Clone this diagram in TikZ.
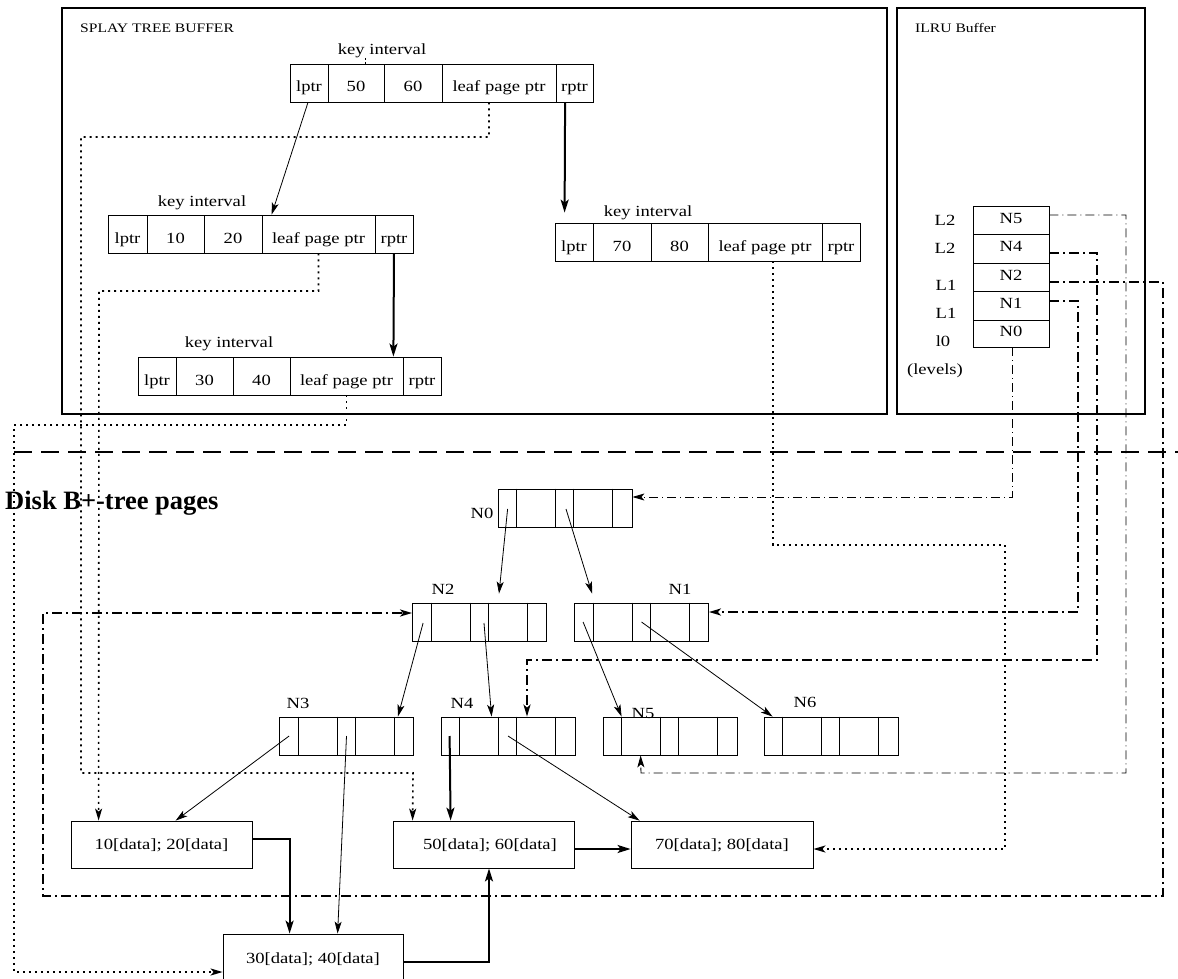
\documentclass[tikz,border=0pt]{standalone}
\usepackage{fontspec}
\setmainfont{Liberation Serif}
\newfontfamily\figfont[FakeStretch=1.2]{Liberation Serif}
\usetikzlibrary{arrows.meta,calc}
\newcommand\fsn{\figfont\fontsize{15.5}{17}\selectfont}
\newcommand\fss{\figfont\fontsize{13}{15}\selectfont}
\newcommand\fsb{\fontsize{26.5}{30}\selectfont\bfseries}
\newcommand\pagelines[1]{\foreach \o in {19,58,76,115}{\draw[line width=0.8pt] ([xshift=\o pt]#1.north west) -- ([xshift=\o pt]#1.south west);}}
\tikzset{
  cell/.style={draw, line width=0.8pt, minimum height=38pt, inner sep=0pt, font=\fsn, text height=18pt, text depth=0pt},
  ilcell/.style={draw, line width=0.8pt, minimum width=76pt, inner sep=0pt, font=\fsn, text height=9pt, text depth=3pt},
  pagebox/.style={draw, line width=0.8pt, minimum width=134pt, minimum height=38pt, inner sep=0pt},
  databox/.style={draw, line width=0.8pt, minimum width=181pt, minimum height=47pt, inner sep=0pt, font=\fsn, text height=12pt, text depth=3pt},
  lbl/.style={inner sep=0pt, font=\fsn, anchor=base},
  outer/.style={line width=1.6pt},
  tip/.style={-{Stealth[length=12pt,width=7pt,inset=3pt]}},
  thinarr/.style={line width=0.8pt, tip},
  thickarr/.style={line width=2pt, -{Stealth[length=13pt,width=8pt,inset=3pt]}},
  dotarr/.style={line width=1.6pt, dash pattern=on 2pt off 4pt, tip},
  ddthick/.style={line width=2pt, dash pattern=on 10pt off 4pt on 2pt off 4pt, tip},
  ddthin/.style={line width=0.9pt, dash pattern=on 9pt off 4pt on 1pt off 4pt, tip},
  sepline/.style={line width=1.5pt, dash pattern=on 18pt off 9pt},
}
\begin{document}
\begin{tikzpicture}[x=1pt,y=-1pt]
\useasboundingbox (0,0) rectangle (1178,979);
% outer boxes
\draw[outer] (62,8) rectangle (887,414);
\draw[outer] (897,8) rectangle (1145,414);
\node[inner sep=0pt, font=\fss, anchor=base west] (splaytitle) at (80,33) {SPLAY TREE BUFFER};
\node[inner sep=0pt, font=\fss, anchor=base west] (ilrutitle) at (915,33) {ILRU Buffer};

% record 1
\node[lbl] (ki1) at (382,55) {key interval};
\node[cell, minimum width=38pt] (r1a) at (309,83) {lptr};
\node[cell, minimum width=56pt] (r1b) at (356,83) {50};
\node[cell, minimum width=58pt] (r1c) at (413,83) {60\hspace{24pt}};
\node[cell, minimum width=114pt] (r1d) at (499,83) {leaf page ptr};
\node[cell, minimum width=37pt] (r1e) at (574.5,83) {rptr};
\draw[line width=1pt, dash pattern=on 2pt off 2pt] (365,58) -- (r1b.north -| 365,0);

% record 2
\node[lbl] (ki2) at (202,206) {key interval};
\node[cell, minimum width=39pt] (r2a) at (127.5,234) {lptr};
\node[cell, minimum width=57pt] (r2b) at (175.5,234) {10};
\node[cell, minimum width=58pt] (r2c) at (233,234) {20\hspace{24pt}};
\node[cell, minimum width=113pt] (r2d) at (318.5,234) {leaf page ptr};
\node[cell, minimum width=38pt] (r2e) at (394,234) {rptr};

% record 3
\node[lbl] (ki3) at (229,347) {key interval};
\node[cell, minimum width=38pt] (r3a) at (157,376) {lptr};
\node[cell, minimum width=57pt] (r3b) at (204.5,376) {30};
\node[cell, minimum width=57pt] (r3c) at (261.5,376) {40\hspace{13pt}};
\node[cell, minimum width=113pt] (r3d) at (346.5,376) {leaf page ptr};
\node[cell, minimum width=38pt] (r3e) at (422,376) {rptr};

% record 4
\node[lbl] (ki4) at (648,216) {key interval};
\node[cell, minimum width=38pt] (r4a) at (574,242) {lptr};
\node[cell, minimum width=58pt] (r4b) at (622,242) {70};
\node[cell, minimum width=57pt] (r4c) at (679.5,242) {80\hspace{28pt}};
\node[cell, minimum width=114pt] (r4d) at (765,242) {leaf page ptr};
\node[cell, minimum width=38pt] (r4e) at (841,242) {rptr};

% splay tree pointers
\draw[thinarr] ([xshift=-1pt]r1a.south) -- ([xshift=10pt]r2d.north west);
\draw[thickarr] ([xshift=9.5pt]r1e.south west) -- ([xshift=10pt,yshift=10pt]r4a.north west);
\draw[thickarr] (r2e.south) -- ([xshift=-10pt]r3d.north east);

% ILRU buffer
\node[ilcell, minimum height=28pt] (ilN5) at (1011,220) {N5\hspace{16pt}};
\node[ilcell, minimum height=29pt] (ilN4) at (1011,248.5) {N4\hspace{16pt}};
\node[ilcell, minimum height=28pt] (ilN2) at (1011,277) {N2\hspace{16pt}};
\node[ilcell, minimum height=29pt] (ilN1) at (1011,305.5) {N1\hspace{16pt}};
\node[ilcell, minimum height=27pt] (ilN0) at (1011,333.5) {N0\hspace{16pt}};
\node[lbl] (lv5) at (945,225) {L2};
\node[lbl] (lv4) at (945,253) {L2};
\node[lbl] (lv2) at (946,290) {L1};
\node[lbl] (lv1) at (946,318) {L1};
\node[lbl] (lv0) at (943,346) {l0};
\node[lbl] (lvl) at (935,374) {(levels)};

% separator
\draw[sepline] (14,452) -- (1178,452);
\node[inner sep=0pt, font=\fsb, anchor=base west] (disk) at (5,509) {Disk B+-tree pages};

% B+ tree pages
\node[pagebox] (pN0) at (565,508) {};
\node[pagebox] (pN2) at (479.5,622) {};
\node[pagebox] (pN1) at (641.5,622) {};
\node[pagebox] (pN3) at (346.5,736) {};
\node[pagebox] (pN4) at (508,736) {};
\node[pagebox] (pN5) at (670,736) {};
\node[pagebox] (pN6) at (831,736) {};
\pagelines{pN0}\pagelines{pN2}\pagelines{pN1}\pagelines{pN3}\pagelines{pN4}\pagelines{pN5}\pagelines{pN6}
\node[lbl] (tN0) at (482,518) {N0};
\node[lbl] (tN2) at (443,594) {N2};
\node[lbl] (tN1) at (680,594) {N1};
\node[lbl] (tN3) at (298,708) {N3};
\node[lbl] (tN4) at (462,708) {N4};
\node[lbl] (tN5) at (643,718) {N5};
\node[lbl] (tN6) at (805,707) {N6};

% data pages
\node[databox] (box10) at (161.5,844.5) {10[data]; 20[data]};
\node[databox] (box50) at (483.5,844.5) {\hspace{13pt}50[data]; 60[data]};
\node[databox, minimum width=182pt] (box70) at (722,844.5) {70[data]; 80[data]};
\node[databox, minimum width=180pt, minimum height=50pt] (box30) at (313,959) {30[data]; 40[data]};

% tree pointers
\draw[thinarr] ([xshift=10pt,yshift=-1pt]pN0.west) -- ([xshift=19.5pt,yshift=9pt]pN2.north);
\draw[thinarr] ([xshift=1pt,yshift=-1pt]pN0.center) -- ([xshift=18pt,yshift=9pt]pN1.north west);
\draw[thinarr] ([xshift=11pt,yshift=-1pt]pN2.west) -- ([xshift=-16pt]pN3.north east);
\draw[thinarr] ([xshift=4.5pt,yshift=-1pt]pN2.center) -- ([xshift=51pt]pN4.north west);
\draw[thinarr] ([xshift=9pt]pN1.west) -- ([xshift=19pt]pN5.north west);
\draw[thinarr] (pN1.center) -- ([xshift=9pt]pN6.north west);
\draw[thinarr] ([xshift=10pt]pN3.west) -- ([xshift=105pt]box10.north west);
\draw[thinarr] (pN3.center) -- ([xshift=115pt]box30.north west);
\draw[thickarr] ([xshift=9pt]pN4.west) -- ([xshift=58pt]box50.north west);
\draw[thinarr] (pN4.center) -- ([xshift=9pt]box70.north west);

% leaf chain
\draw[thickarr] ([yshift=5.5pt]box10.east) -| ([xshift=67pt]box30.north west);
\draw[thickarr] ([yshift=-3pt]box30.east) -| ([xshift=5.5pt]box50.south);
\draw[thickarr] ([yshift=-4.5pt]box50.east) -- ([yshift=-4.5pt]box70.west);

% leaf page pointers (dotted)
\draw[dotarr] ([xshift=-10pt]r1d.south) -- (489,137) -- (81,137) -- (81,773) -- (413,773) -- ([xshift=20pt]box50.north west);
\draw[dotarr] (r2d.south) -- (318.5,291) -- (99,291) -- ([xshift=28pt]box10.north west);
\draw[dotarr] (r3d.south) -- (346.5,425) -- (14,425) -- (14,972) -- ([yshift=-13pt]box30.west);
\draw[dotarr] ([xshift=8pt]r4d.south) -- (773,545) -- (1005,545) -- (1005,849) -- ([yshift=-4.5pt]box70.east);

% ILRU pointers (dash-dot)
\draw[ddthin] ([xshift=1pt]ilN0.south) -- (1012,497) -- ([yshift=11pt]pN0.east);
\draw[ddthin] ([yshift=5pt]ilN5.east) -- (1126,215) -- (1126,773) -- (641,773) -- ([xshift=38pt]pN5.south west);
\draw[ddthick] ([yshift=-4.5pt]ilN4.east) -- (1097,253) -- (1097,660) -- (527,660) -- ([xshift=19pt]pN4.north);
\draw[ddthick] ([yshift=-5pt]ilN2.east) -- (1163,282) -- (1163,896) -- (43,896) -- (43,613) -- ([yshift=9pt]pN2.west);
\draw[ddthick] ([yshift=4.5pt]ilN1.east) -- (1078,301) -- (1078,612) -- ([yshift=10pt]pN1.east);
\end{tikzpicture}
\end{document}
